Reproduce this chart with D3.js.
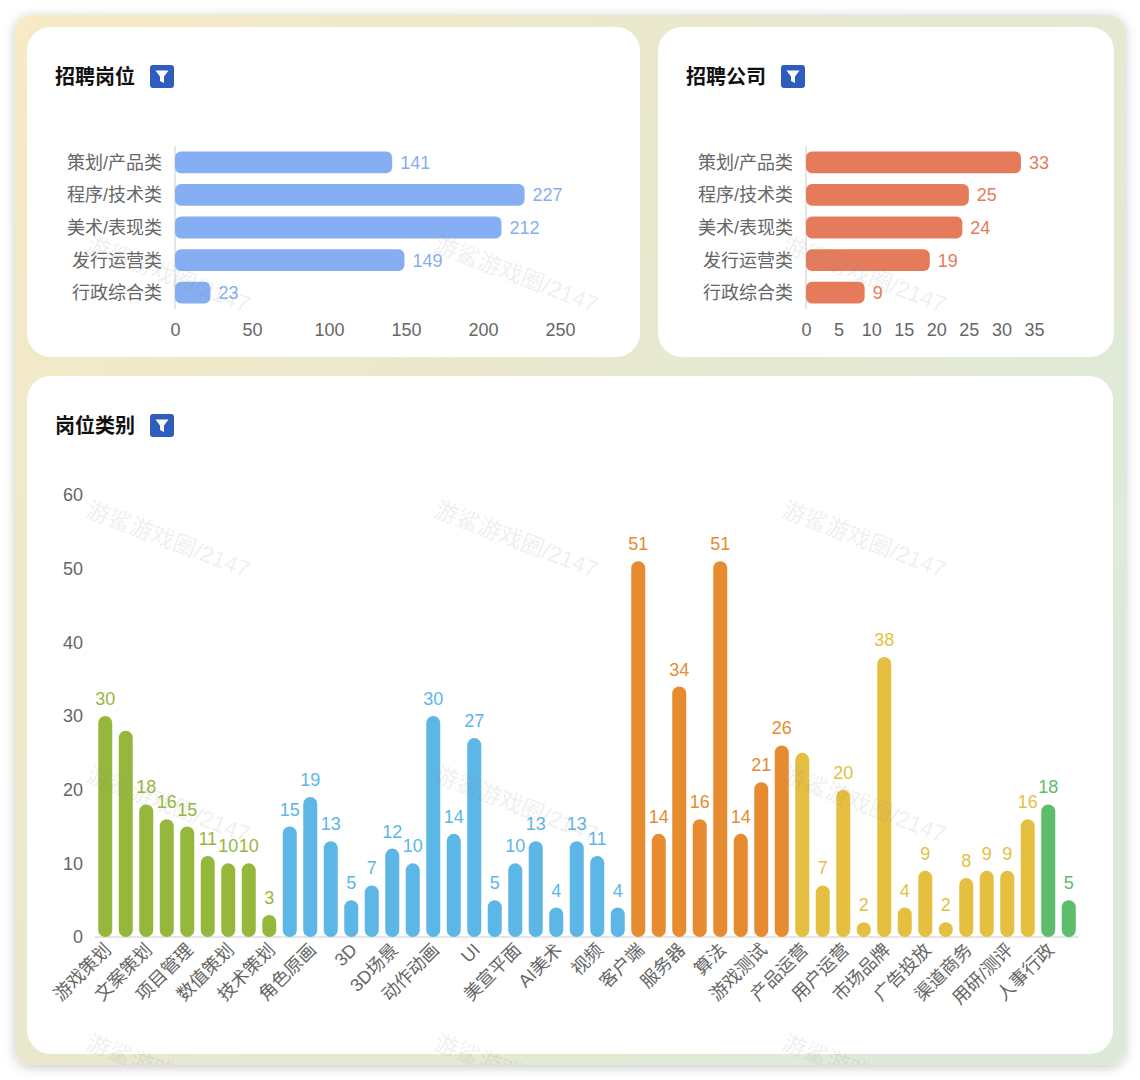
<!DOCTYPE html>
<html>
<head>
<meta charset="utf-8">
<script src="https://cdn.jsdelivr.net/npm/d3@7"></script>
<style>
body{margin:0;background:#fff;}
svg{display:block;}
text{font-family:"Liberation Sans","Noto Sans CJK SC",sans-serif;}
</style>
</head>
<body>
<svg id="chart" width="1140" height="1080"></svg>
<script>
var hCategories = ["策划/产品类","程序/技术类","美术/表现类","发行运营类","行政综合类"];
var jobValues = [141,227,212,149,23];
var jobTicks = [0,50,100,150,200,250];
var companyValues = [33,25,24,19,9];
var companyTicks = [0,5,10,15,20,25,30,35];

// 48 bars, only every second one has a readable name in the picture
var barNames = ["游戏策划","","文案策划","","项目管理","","数值策划","","技术策划","",
    "角色原画","","3D","","3D场景","","动作动画","","UI","",
    "美宣平面","","AI美术","","视频","","客户端","","服务器","",
    "算法","","游戏测试","","产品运营","","用户运营","","市场品牌","",
    "广告投放","","渠道商务","","用研/测评","","人事行政",""];
var barValues = [30,28,18,16,15,11,10,10,3,
    15,19,13,5,7,12,10,30,14,27,5,10,13,4,13,11,4,
    51,14,34,16,51,14,21,26,
    25,7,20,2,38,4,9,2,8,9,9,16,
    18,5];
var barGroups = ["策划","策划","策划","策划","策划","策划","策划","策划","策划",
    "美术","美术","美术","美术","美术","美术","美术","美术","美术","美术","美术","美术","美术","美术","美术","美术","美术",
    "程序","程序","程序","程序","程序","程序","程序","程序",
    "发行","发行","发行","发行","发行","发行","发行","发行","发行","发行","发行","发行",
    "行政","行政"];
var noLabelBars = [1,34]; // value label is not shown on these
var barTicks = [0,10,20,30,40,50,60];

var groupColor = d3.scaleOrdinal()
    .domain(["策划","美术","程序","发行","行政"])
    .range(["#95b83c","#5cb6e6","#e68b30","#e5bf40","#5cbd6a"]);

var tickColor = "#666";
var svg = d3.select("#chart");
var defs = svg.append("defs");

var grad = defs.append("linearGradient").attr("id","panelBg")
    .attr("x1","0%").attr("y1","0%").attr("x2","100%").attr("y2","60%");
grad.append("stop").attr("offset","0%").attr("stop-color","#f8eac6");
grad.append("stop").attr("offset","45%").attr("stop-color","#e9e8cd");
grad.append("stop").attr("offset","100%").attr("stop-color","#deead9");

var shadow = defs.append("filter").attr("id","panelShadow")
    .attr("x","-5%").attr("y","-5%").attr("width","110%").attr("height","110%");
shadow.append("feDropShadow").attr("dx",0).attr("dy",2).attr("stdDeviation",6)
    .attr("flood-color","#000").attr("flood-opacity",0.22);

defs.append("clipPath").attr("id","panelClip").append("rect")
    .attr("x",15).attr("y",15).attr("width",1110).attr("height",1050).attr("rx",16);

svg.append("rect").attr("x",15).attr("y",15).attr("width",1110).attr("height",1050).attr("rx",16)
    .attr("fill","url(#panelBg)").attr("filter","url(#panelShadow)");

function card(x,y,w,h){
    svg.append("rect").attr("x",x).attr("y",y).attr("width",w).attr("height",h).attr("rx",24).attr("fill","#fff");
}
card(27,27,613,330);
card(658,27,456,330);
card(27,376,1086,678);

function title(x,y,label,iconX){
    svg.append("text").attr("x",x).attr("y",y).attr("font-size",20).attr("font-weight",700)
        .attr("fill","#111").text(label);
    var g = svg.append("g").attr("transform",`translate(${iconX},${y-19})`);
    g.append("rect").attr("width",24).attr("height",23).attr("rx",3).attr("fill","#2f5cbf");
    g.append("path").attr("d","M5.5 5.5H18.5L14 11.5V18L10 16V11.5Z").attr("fill","#fff");
}
title(55,84,"招聘岗位",150);
title(686,84,"招聘公司",781);
title(55,433,"岗位类别",150);

function hBar(x0,x1,maxVal,values,ticks,color){
    var x = d3.scaleLinear().domain([0,maxVal]).range([x0,x1]);
    var y = d3.scaleBand().domain(hCategories).range([146,309]).paddingInner(0.33).paddingOuter(0.165);

    var xAxis = svg.append("g").attr("transform","translate(0,330)")
        .call(d3.axisBottom(x).tickValues(ticks).tickSize(0).tickPadding(0));
    xAxis.select(".domain").remove();
    xAxis.selectAll("text").attr("font-size",18).attr("fill",tickColor).attr("dy","0.36em").attr("y",0);

    svg.append("line").attr("x1",x0).attr("x2",x0).attr("y1",146).attr("y2",309)
        .attr("stroke","#ccc").attr("stroke-width",1);

    var rows = svg.append("g").selectAll("g").data(hCategories).enter().append("g");
    rows.append("rect")
        .attr("x",x0)
        .attr("y",d=>y(d))
        .attr("width",(d,i)=>x(values[i])-x0)
        .attr("height",y.bandwidth())
        .attr("rx",6)
        .attr("fill",color);
    rows.append("text")
        .attr("x",x0-13)
        .attr("y",d=>y(d)+y.bandwidth()/2)
        .attr("dy","0.36em")
        .attr("text-anchor","end")
        .attr("font-size",18)
        .attr("fill",tickColor)
        .text(d=>d);
    rows.append("text")
        .attr("x",(d,i)=>x(values[i])+8)
        .attr("y",d=>y(d)+y.bandwidth()/2)
        .attr("dy","0.36em")
        .attr("font-size",18)
        .attr("fill",color)
        .text((d,i)=>values[i]);
}
hBar(175,560,250,jobValues,jobTicks,"#86aef2");
hBar(806,1034,35,companyValues,companyTicks,"#e67b5b");

// bottom chart
var idx = d3.range(barValues.length);
var xBand = d3.scaleBand().domain(idx).range([95,1079]);
var yBar = d3.scaleLinear().domain([0,60]).range([937,495]);
var barW = 14;

var yAxis = svg.append("g").attr("transform","translate(83,0)")
    .call(d3.axisLeft(yBar).tickValues(barTicks).tickSize(0).tickPadding(0));
yAxis.select(".domain").remove();
yAxis.selectAll("text").attr("font-size",18).attr("fill",tickColor);

svg.append("line").attr("x1",95).attr("x2",1079).attr("y1",937).attr("y2",937)
    .attr("stroke","#ccc").attr("stroke-width",1);

svg.append("g").selectAll("rect").data(idx).enter().append("rect")
    .attr("x",i=>xBand(i)+xBand.bandwidth()/2-barW/2)
    .attr("y",i=>yBar(barValues[i]))
    .attr("width",barW)
    .attr("height",i=>yBar(0)-yBar(barValues[i]))
    .attr("rx",7)
    .attr("fill",i=>groupColor(barGroups[i]));

svg.append("g").selectAll("text").data(idx.filter(i=>noLabelBars.indexOf(i)<0)).enter().append("text")
    .attr("x",i=>xBand(i)+xBand.bandwidth()/2)
    .attr("y",i=>yBar(barValues[i])-11)
    .attr("text-anchor","middle")
    .attr("font-size",18)
    .attr("fill",i=>groupColor(barGroups[i]))
    .text(i=>barValues[i]);

svg.append("g").selectAll("text").data(idx.filter(i=>barNames[i])).enter().append("text")
    .attr("transform",i=>`translate(${xBand(i)+xBand.bandwidth()/2+7},${951}) rotate(-45)`)
    .attr("text-anchor","end")
    .attr("font-size",18)
    .attr("fill",tickColor)
    .text(i=>barNames[i]);

// watermark across the whole panel
var marks = [];
[-244,21,286,554,821].forEach(function(wy){
    [85,433,781].forEach(function(wx){ marks.push([wx,wy]); });
});
svg.append("g").attr("clip-path","url(#panelClip)").selectAll("text").data(marks).enter().append("text")
    .attr("transform",d=>`translate(${d[0]},${d[1]+495}) rotate(21)`)
    .attr("font-size",23)
    .attr("fill","#888")
    .attr("opacity",0.13)
    .text("游鲨游戏圈/2147");
</script>
</body>
</html>
